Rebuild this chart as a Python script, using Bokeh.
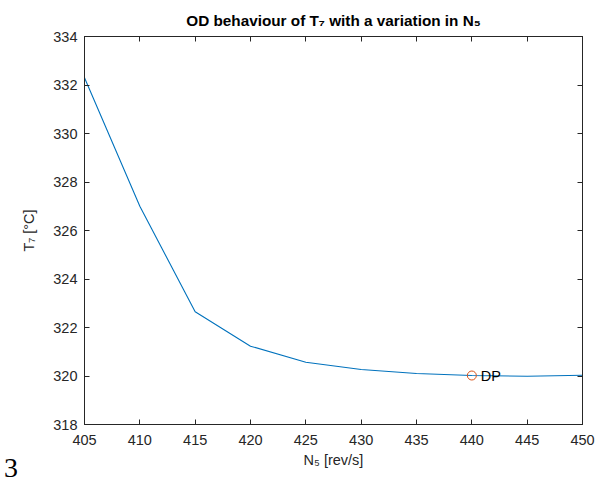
from bokeh.plotting import figure
from bokeh.layouts import row
from bokeh.models import Range1d, FixedTicker, LinearAxis, Label, Div
from bokeh.embed import file_html
from bokeh.resources import INLINE

# Off-design behaviour of T7 against shaft speed N5
n5_speed = [405, 410, 415, 420, 425, 430, 435, 440, 445, 450]
t7_temp = [332.3, 327.0, 322.65, 321.23, 320.57, 320.27, 320.1, 320.02, 319.99, 320.03]

# design point
dp_speed = [440]
dp_temp = [320.02]
dp_label = "DP"

x_ticks = [405, 410, 415, 420, 425, 430, 435, 440, 445, 450]
y_ticks = [318, 320, 322, 324, 326, 328, 330, 332, 334]

title_text = "OD behaviour of T\u2087 with a variation in N\u2085"
x_label = "N\u2085 [rev/s]"
y_label = "T\u2087 [\u00b0C]"
page_number = "3"

AX = "#262626"
FONT = "Liberation Sans"

# page number in the bottom-left margin
margin = Div(text=page_number, width=17, height=484, margin=(0, 0, 0, 0),
             styles={"font-family": "Liberation Serif", "font-size": "28px",
                     "line-height": "20px", "color": "black",
                     "padding-top": "458px", "padding-left": "4px",
                     "overflow": "visible", "box-sizing": "border-box"})

p = figure(width=578, height=484, output_backend="svg", toolbar_location=None,
           x_range=Range1d(x_ticks[0], x_ticks[-1]),
           y_range=Range1d(y_ticks[0], y_ticks[-1]),
           min_border_left=67, min_border_right=13, min_border_top=36,
           min_border_bottom=60, background_fill_color="white",
           border_fill_color="white", margin=(0, 0, 0, 0))
p.grid.visible = False
p.outline_line_color = AX
p.outline_line_width = 1

p.title.text = title_text
p.title.align = "center"
p.title.standoff = 16
p.title.text_font = FONT
p.title.text_font_size = "15.3px"
p.title.text_font_style = "bold"
p.title.text_color = "black"


def style_axis(ax, ticks, standoff, labelled=True):
    ax.ticker = FixedTicker(ticks=ticks)
    ax.axis_line_color = AX
    ax.major_tick_line_color = AX
    ax.major_tick_in = 5
    ax.major_tick_out = 0
    ax.minor_tick_line_color = None
    ax.major_label_standoff = standoff
    ax.major_label_text_font = FONT
    ax.major_label_text_font_size = "14.5px"
    ax.major_label_text_color = AX
    ax.axis_label_text_font = FONT
    ax.axis_label_text_font_size = "14.5px"
    ax.axis_label_text_font_style = "normal"
    ax.axis_label_text_color = AX
    if not labelled:
        # tick marks only on the opposite edges of the box
        ax.major_label_text_color = None
        ax.major_label_text_font_size = "1px"


xax = p.xaxis[0]
yax = p.yaxis[0]
style_axis(xax, x_ticks, 10)
style_axis(yax, y_ticks, 7)
xax.axis_label = x_label
xax.axis_label_standoff = 4
yax.axis_label = y_label
yax.axis_label_standoff = 13

top_ax = LinearAxis()
style_axis(top_ax, x_ticks, 0, labelled=False)
right_ax = LinearAxis()
style_axis(right_ax, y_ticks, 0, labelled=False)
p.add_layout(top_ax, "above")
p.add_layout(right_ax, "right")

p.line(n5_speed, t7_temp, line_color="#0072BD", line_width=1.1)
p.scatter(dp_speed, dp_temp, marker="circle", size=9, fill_color=None,
          line_color="#D95319", line_width=1)
p.add_layout(Label(x=dp_speed[0], y=dp_temp[0], text=dp_label, x_offset=9,
                   text_baseline="middle", text_font=FONT,
                   text_font_size="14.5px", text_color="black"))

layout = row(margin, p, spacing=0)
open("out.html", "w").write(file_html(layout, INLINE))
